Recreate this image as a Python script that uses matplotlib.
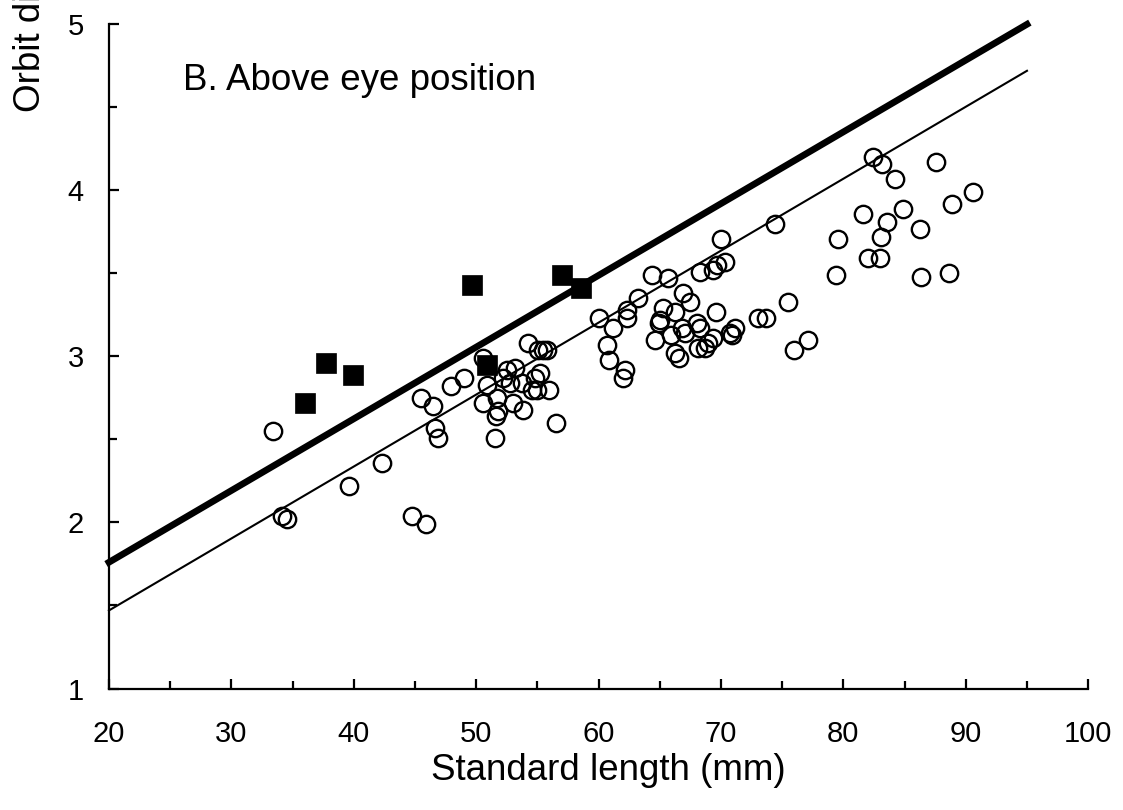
import matplotlib
matplotlib.use("Agg")
import matplotlib.pyplot as plt
from matplotlib.ticker import MultipleLocator

plt.rcParams['font.family'] = ['Liberation Sans', 'DejaVu Sans']

# Open circles: standard length (mm) vs orbit diameter (mm)
circle_x = [33.40, 34.13, 34.54, 39.61, 42.31, 44.76, 45.90, 45.49, 46.47, 46.63,
            46.88, 47.94, 49.00, 50.56, 50.88, 50.56, 51.54, 51.70, 51.78, 51.62,
            52.20, 52.52, 53.18, 52.77, 53.01, 53.83, 53.75, 54.24, 54.57, 54.81,
            55.22, 55.06, 55.46, 55.79, 55.00, 55.95, 56.53, 60.04, 61.18, 60.69,
            60.86, 62.16, 62.00, 62.33, 62.33, 63.23, 64.37, 65.68, 64.62, 65.27,
            65.02, 64.94, 65.92, 66.25, 66.90, 67.48, 66.82, 67.07, 68.05, 68.29,
            66.25, 66.58, 68.13, 68.70, 68.95, 69.36, 69.60, 68.29, 69.36, 69.68,
            70.34, 70.01, 70.75, 70.91, 71.15, 73.03, 73.69, 74.42, 75.48, 75.97,
            77.12, 79.41, 79.57, 81.61, 82.02, 83.00, 82.43, 83.17, 84.23, 84.88,
            83.58, 83.09, 86.27, 86.35, 87.58, 88.88, 88.64, 90.60]
circle_y = [2.55, 2.04, 2.02, 2.22, 2.36, 2.04, 1.99, 2.75, 2.70, 2.57,
            2.51, 2.82, 2.87, 2.99, 2.83, 2.72, 2.51, 2.75, 2.67, 2.64,
            2.87, 2.92, 2.93, 2.84, 2.72, 2.68, 2.84, 3.08, 2.80, 2.87,
            2.90, 3.04, 3.04, 3.04, 2.80, 2.80, 2.60, 3.23, 3.17, 3.07,
            2.98, 2.92, 2.87, 3.28, 3.23, 3.35, 3.49, 3.47, 3.10, 3.29,
            3.22, 3.20, 3.13, 3.27, 3.38, 3.33, 3.17, 3.14, 3.20, 3.17,
            3.02, 2.99, 3.05, 3.05, 3.08, 3.11, 3.27, 3.51, 3.52, 3.55,
            3.57, 3.71, 3.14, 3.13, 3.17, 3.23, 3.23, 3.80, 3.33, 3.04,
            3.10, 3.49, 3.71, 3.86, 3.59, 3.59, 4.20, 4.16, 4.07, 3.89,
            3.81, 3.72, 3.77, 3.48, 4.17, 3.92, 3.50, 3.99]

# Filled squares
square_x = [36.0, 37.7, 39.9, 49.7, 50.9, 57.0, 58.6]
square_y = [2.72, 2.96, 2.89, 3.43, 2.95, 3.49, 3.41]

# Regression lines (endpoints)
line_x = [20, 95]
thick_y = [1.76, 5.00]
thin_y = [1.47, 4.72]

fig = plt.figure(figsize=(11.23, 8.10), dpi=100)
ax = fig.add_axes([0.097, 0.150, 0.872, 0.820])

ax.plot(line_x, thin_y, color='black', lw=1.5, clip_on=False, zorder=2)
ax.plot(line_x, thick_y, color='black', lw=4.8, clip_on=False, zorder=2)
ax.plot(circle_x, circle_y, linestyle='none', marker='o', ms=12.5,
        mfc='none', mec='black', mew=1.7, zorder=3)
ax.plot(square_x, square_y, linestyle='none', marker='s', ms=14.5,
        mfc='black', mec='black', mew=0.5, zorder=4)

ax.set_xlim(20, 100)
ax.set_ylim(1, 5)
for s in ['top', 'right']:
    ax.spines[s].set_visible(False)
for s in ['left', 'bottom']:
    ax.spines[s].set_linewidth(1.6)

ax.xaxis.set_major_locator(MultipleLocator(10))
ax.xaxis.set_minor_locator(MultipleLocator(5))
ax.yaxis.set_major_locator(MultipleLocator(1))
ax.yaxis.set_minor_locator(MultipleLocator(0.5))
ax.tick_params(axis='x', which='major', direction='in', length=7.5, width=1.6,
               labelsize=21, pad=23)
ax.tick_params(axis='x', which='minor', direction='in', length=5.5, width=1.6)
ax.tick_params(axis='y', which='major', direction='in', length=7.5, width=1.6,
               labelsize=21, pad=18)
ax.tick_params(axis='y', which='minor', direction='in', length=5.5, width=1.6)

ax.text(26.05, 4.66, 'B. Above eye position', fontsize=26.5,
        ha='left', va='center')

fig.text(0.542, 0.049, 'Standard length (mm)', fontsize=26.5,
         ha='center', va='center')
fig.text(0.027, 0.862, 'Orbit diameter (mm)', fontsize=26.5, rotation=90,
         ha='center', va='bottom')

fig.savefig('out.png', dpi=100)
